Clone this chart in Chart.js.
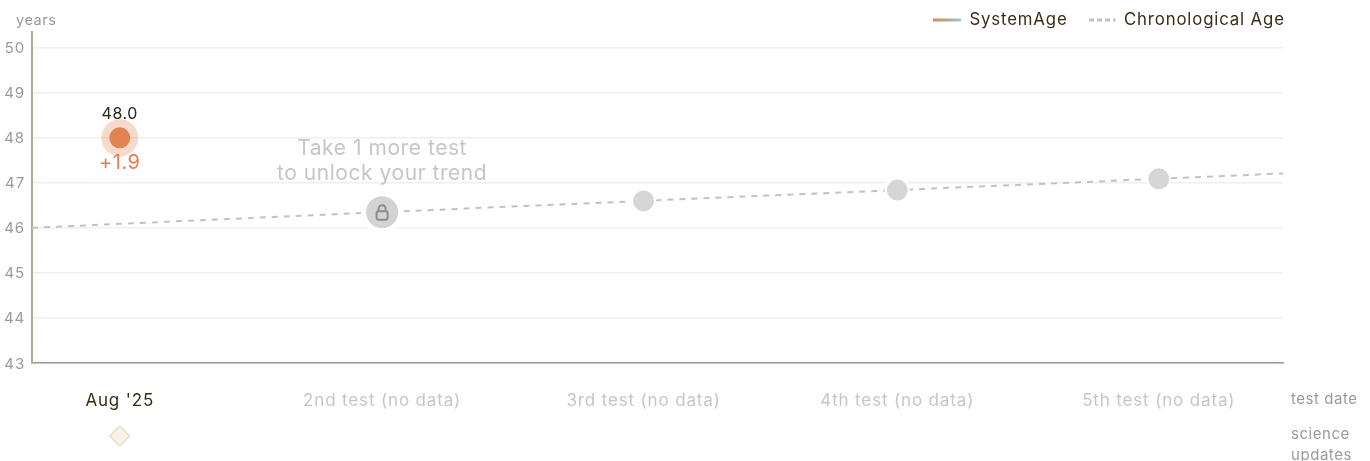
<!DOCTYPE html>
<html>
<head>
<meta charset="utf-8">
<style>
  html, body { margin: 0; padding: 0; background: #fff; }
  canvas { display: block; }
</style>
<script src="https://cdn.jsdelivr.net/npm/chart.js@4/dist/chart.umd.min.js"></script>
</head>
<body>
<canvas id="chart" width="1370" height="461"></canvas>
<script>
const FONT = "Inter, 'Noto Sans', sans-serif";

// x values are months since the start of the axis
const testMonths = [1.01, 4.03, 7.04, 9.96, 12.97];
const testLabels = ["Aug '25", "2nd test (no data)", "3rd test (no data)", "4th test (no data)", "5th test (no data)"];
const systemAge = [48.0];
const systemAgeDelta = [1.9];
const chronoMonths = [0, 1.01, 4.03, 7.04, 9.96, 12.97, 14.4];
const chronoAge = [46.0, 46.09, 46.35, 46.6, 46.84, 47.09, 47.21];
const pendingMonths = [7.04, 9.96, 12.97];
const pendingAge = [46.6, 46.84, 47.09];
const lockedMonths = [4.03];
const lockedAge = [46.35];
// the science update row sits under the axis, on the same y scale
const scienceMonths = [1.01];
const scienceRow = [41.38];
const yMin = 43;
const yMax = 50.35;

const toXY = (xs, ys) => xs.map((x, i) => ({ x: x, y: ys[i] }));

const spacing = {
  id: "spacing",
  beforeLayout(chart) {
    chart.ctx.letterSpacing = "0.85px";
    // legend keeps its item gap but must not push the plot down
    const legend = chart.legend;
    const fit = legend.fit;
    legend.fit = function () {
      fit.call(this);
      this.height = 32;
    };
  },
  beforeDraw(chart) { chart.ctx.letterSpacing = "0.85px"; },
  afterLayout(chart) {
    const legend = chart.legend;
    legend.top = -8.5;
    legend.bottom = 40;
    legend.left = 913;
    legend.right = 1370;
  },
};

function label(ctx, text, x, y, font, color, align) {
  ctx.font = font + " " + FONT;
  ctx.letterSpacing = "0.55px";
  ctx.fillStyle = color;
  ctx.textAlign = align || "center";
  ctx.textBaseline = "middle";
  ctx.fillText(text, x, y);
}

const annotations = {
  id: "annotations",
  afterDatasetsDraw(chart) {
    const { ctx, scales } = chart;
    const px = scales.x.getPixelForValue(testMonths[0]);
    const py = scales.y.getPixelForValue(systemAge[0]);
    ctx.save();
    label(ctx, systemAge[0].toFixed(1), px, py - 24, "16px", "#2e2416");
    label(ctx, "+" + systemAgeDelta[0].toFixed(1), px, py + 25, "20px", "#e27f52");

    const lx = scales.x.getPixelForValue(lockedMonths[0]);
    const ly = scales.y.getPixelForValue(lockedAge[0]);
    label(ctx, "Take 1 more test", lx, ly - 63, "21px", "#c6c6c6");
    label(ctx, "to unlock your trend", lx, ly - 38, "21px", "#c6c6c6");

    // lock icon
    ctx.strokeStyle = "#8c8c8c";
    ctx.lineWidth = 2;
    ctx.beginPath();
    ctx.roundRect(lx - 5.5, ly - 1, 11, 8.5, 2);
    ctx.stroke();
    ctx.beginPath();
    ctx.moveTo(lx - 3.5, ly - 1);
    ctx.lineTo(lx - 3.5, ly - 3.5);
    ctx.arc(lx, ly - 3.5, 3.5, Math.PI, 0);
    ctx.lineTo(lx + 3.5, ly - 1);
    ctx.stroke();

    // points outside chartArea are skipped by the line controller, so draw this row here
    const page = { left: 0, top: 0, right: chart.width, bottom: chart.height };
    chart.getDatasetMeta(5).data.forEach((point) => point.draw(ctx, page));

    label(ctx, "years", 16, 21, "14.5px", "#9a9a9a", "left");
    label(ctx, "test date", 1291, 399, "15px", "#9a9a9a", "left");
    label(ctx, "science", 1291, 434, "15px", "#9a9a9a", "left");
    label(ctx, "updates", 1291, 455, "15px", "#9a9a9a", "left");
    ctx.restore();
  },
};

new Chart(document.getElementById("chart"), {
  type: "line",
  plugins: [spacing, annotations],
  data: {
    datasets: [
      {
        label: "SystemAge",
        data: toXY([testMonths[0]], systemAge),
        showLine: false,
        pointRadius: 10.5,
        pointBackgroundColor: "#e28352",
        pointBorderWidth: 0,
      },
      {
        label: "SystemAge halo",
        data: toXY([testMonths[0]], systemAge),
        showLine: false,
        pointRadius: 18.5,
        pointBackgroundColor: "rgba(226,131,82,0.3)",
        pointBorderWidth: 0,
      },
      {
        label: "Locked",
        data: toXY(lockedMonths, lockedAge),
        showLine: false,
        pointRadius: 18.5,
        pointBackgroundColor: "#d3d3d3",
        pointBorderColor: "#fff",
        pointBorderWidth: 5,
      },
      {
        label: "Pending",
        data: toXY(pendingMonths, pendingAge),
        showLine: false,
        pointRadius: 11.5,
        pointBackgroundColor: "#d6d6d6",
        pointBorderColor: "#fff",
        pointBorderWidth: 2,
      },
      {
        label: "Chronological Age",
        data: toXY(chronoMonths, chronoAge),
        borderColor: "#c2c2c2",
        borderWidth: 2,
        borderDash: [6, 6],
        pointRadius: 0,
        tension: 0,
      },
      {
        label: "Science updates",
        data: toXY(scienceMonths, scienceRow),
        showLine: false,
        clip: false,
        pointStyle: "rectRot",
        pointRadius: 10,
        pointBackgroundColor: "#f8f3e6",
        pointBorderColor: "#eadfc9",
        pointBorderWidth: 1.5,
      },
    ],
  },
  options: {
    responsive: false,
    animation: false,
    layout: { padding: { top: 0, right: 87, left: 0, bottom: 0 } },
    plugins: {
      tooltip: { enabled: false },
      legend: {
        position: "top",
        align: "start",
        labels: {
          font: { family: FONT, size: 16.8 },
          boxWidth: 28,
          boxHeight: 0,
          padding: 20,
          generateLabels(chart) {
            const grad = chart.ctx.createLinearGradient(933, 0, 961, 0);
            grad.addColorStop(0, "#e2845a");
            grad.addColorStop(0.5, "#b3ad7c");
            grad.addColorStop(1, "#8fcbd6");
            return [
              { text: "SystemAge", fontColor: "#3a2c16", strokeStyle: grad, fillStyle: "transparent", lineWidth: 3, lineDash: [] },
              // the box is a zero height rect, traced there and back, so the offset lines both passes up
              { text: "Chronological Age", fontColor: "#3a2c16", strokeStyle: "#c2c2c2", fillStyle: "transparent", lineWidth: 3, lineDash: [5, 3], lineDashOffset: 6.5 },
            ];
          },
        },
      },
    },
    scales: {
      x: {
        type: "linear",
        min: 0,
        max: 14.4,
        afterFit(scale) { scale.height = 98; },
        afterBuildTicks(scale) { scale.ticks = testMonths.map((m) => ({ value: m })); },
        grid: { display: false },
        border: { color: "#a0968a", width: 1.5 },
        ticks: {
          autoSkip: false,
          maxRotation: 0,
          padding: 20,
          font: { family: FONT, size: 17 },
          color: (c) => (c.index === 0 ? "#3a2c16" : "#c6c6c6"),
          callback: (v, i) => testLabels[i],
        },
      },
      y: {
        min: yMin,
        max: yMax,
        afterFit(scale) { scale.width = 32; },
        grid: { color: "#f3efe5", lineWidth: 1.5, drawTicks: false },
        border: { color: "#b5a999", width: 2 },
        ticks: {
          stepSize: 1,
          includeBounds: false,
          padding: 7,
          labelOffset: 1,
          font: { family: FONT, size: 15 },
          color: "#9a9a9a",
        },
      },
    },
  },
});
</script>
</body>
</html>
